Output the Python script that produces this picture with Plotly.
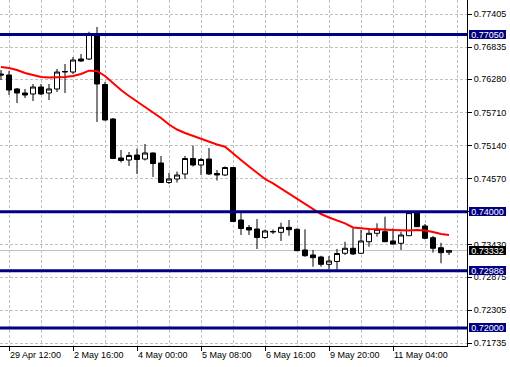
import plotly.graph_objects as go

# ---- data (H4 bars, index 0 = 29 Apr 12:00) ----
bar_index = list(range(-1, 56))
opens = [0.76372, 0.76355, 0.76114, 0.76045, 0.76028, 0.76148, 0.76045, 0.76114, 0.76406, 0.76406,
         0.76630, 0.76630, 0.77043, 0.76191, 0.75597, 0.74926, 0.74891, 0.74977, 0.74908, 0.75012,
         0.74840, 0.74504, 0.74564, 0.74650, 0.74917, 0.74805, 0.74908, 0.74659, 0.74633, 0.74762,
         0.73858, 0.73729, 0.73703, 0.73557, 0.73660, 0.73646, 0.73732, 0.73698, 0.73342, 0.73256,
         0.73221, 0.73095, 0.73144, 0.73285, 0.73371, 0.73285, 0.73484, 0.73629, 0.73657, 0.73497,
         0.73457, 0.73588, 0.73985, 0.73755, 0.73553, 0.73381, 0.73302]
highs = [0.76441, 0.76424, 0.76131, 0.76114, 0.76200, 0.76200, 0.76200, 0.76458, 0.76544, 0.76665,
         0.76716, 0.77100, 0.77181, 0.76234, 0.75614, 0.75063, 0.75029, 0.75089, 0.75167, 0.75020,
         0.74960, 0.74667, 0.74693, 0.74960, 0.75141, 0.74926, 0.75098, 0.74719, 0.74779, 0.74771,
         0.73996, 0.73772, 0.73875, 0.73695, 0.73695, 0.73812, 0.73858, 0.73715, 0.73698, 0.73342,
         0.73243, 0.73238, 0.73359, 0.73484, 0.73715, 0.73686, 0.73715, 0.73801, 0.73915, 0.73715,
         0.73657, 0.74002, 0.74005, 0.73789, 0.73583, 0.73467, 0.73342]
lows = [0.76269, 0.76010, 0.75873, 0.75959, 0.75907, 0.76010, 0.75924, 0.76062, 0.76045, 0.76372,
        0.76579, 0.76613, 0.75545, 0.75571, 0.74908, 0.74848, 0.74788, 0.74650, 0.74883, 0.74599,
        0.74495, 0.74478, 0.74504, 0.74564, 0.74779, 0.74633, 0.74633, 0.74538, 0.74616, 0.73824,
        0.73600, 0.73600, 0.73359, 0.73531, 0.73617, 0.73497, 0.73588, 0.73324, 0.73226, 0.73054,
        0.73054, 0.73009, 0.73006, 0.73256, 0.73256, 0.73281, 0.73398, 0.73571, 0.73479, 0.73436,
        0.73342, 0.73583, 0.73738, 0.73526, 0.73295, 0.73113, 0.73256]
closes = [0.76355, 0.76096, 0.76045, 0.76010, 0.76148, 0.76028, 0.76114, 0.76406, 0.76415, 0.76613,
          0.76596, 0.77061, 0.76200, 0.75580, 0.74917, 0.74883, 0.74969, 0.74900, 0.75012, 0.74831,
          0.74504, 0.74564, 0.74633, 0.74917, 0.74805, 0.74900, 0.74650, 0.74633, 0.74762, 0.73832,
          0.73712, 0.73686, 0.73557, 0.73669, 0.73655, 0.73732, 0.73691, 0.73330, 0.73243, 0.73209,
          0.73095, 0.73152, 0.73281, 0.73371, 0.73273, 0.73497, 0.73629, 0.73698, 0.73484, 0.73445,
          0.73600, 0.73985, 0.73743, 0.73543, 0.73371, 0.73295, 0.73332]
ma_values = [0.76492, 0.76475, 0.76441, 0.76389, 0.76355, 0.76320, 0.76312, 0.76312, 0.76320, 0.76338,
             0.76372, 0.76429, 0.76424, 0.76338, 0.76217, 0.76096, 0.75993, 0.75898, 0.75804, 0.75718,
             0.75614, 0.75502, 0.75416, 0.75356, 0.75304, 0.75261, 0.75210, 0.75158, 0.75120, 0.75012,
             0.74891, 0.74779, 0.74676, 0.74564, 0.74487, 0.74400, 0.74323, 0.74237, 0.74142, 0.74048,
             0.73961, 0.73901, 0.73849, 0.73801, 0.73729, 0.73712, 0.73703, 0.73698, 0.73686, 0.73686,
             0.73681, 0.73677, 0.73686, 0.73677, 0.73651, 0.73617, 0.73600]

time_tick_bars = [0, 8, 16, 24, 32, 40, 48]
time_tick_labels = ["29 Apr 12:00", "2 May 16:00", "4 May 00:00", "5 May 08:00",
                    "6 May 16:00", "9 May 20:00", "11 May 04:00"]
price_ticks = [0.77405, 0.76835, 0.76280, 0.75710, 0.75140, 0.74570,
               0.74000, 0.73430, 0.72875, 0.72305, 0.71735]
price_tick_labels = ["0.77405", "0.76835", "0.76280", "0.75710", "0.75140", "0.74570",
                     "0.74000", "0.73430", "0.72875", "0.72305", "0.71735"]
level_prices = [0.77050, 0.74000, 0.72986, 0.72000]
level_labels = ["0.77050", "0.74000", "0.72986", "0.72000"]
bid_price = 0.73332
bid_label = "0.73332"

FONT = "Liberation Sans"
NAVY = "#000080"
GRID = "#c0c0c0"

fig = go.Figure()
fig.add_trace(go.Candlestick(
    x=bar_index, open=opens, high=highs, low=lows, close=closes,
    increasing=dict(line=dict(color="black", width=1), fillcolor="white"),
    decreasing=dict(line=dict(color="black", width=1), fillcolor="black"),
    whiskerwidth=0, hoverinfo="skip",
))
fig.add_trace(go.Scatter(
    x=bar_index, y=ma_values, mode="lines",
    line=dict(color="#ff0000", width=2), hoverinfo="skip",
))

shapes = []
shapes.append(dict(type="line", xref="paper", yref="y", x0=0, x1=1, y0=bid_price, y1=bid_price,
                   line=dict(color=GRID, width=1), layer="below"))
for lv in level_prices:
    shapes.append(dict(type="line", xref="paper", yref="y", x0=0, x1=1, y0=lv, y1=lv,
                       line=dict(color=NAVY, width=3), layer="above"))

annotations = []
for lv, lab in zip(level_prices, level_labels):
    annotations.append(dict(x=1, xref="paper", y=lv, yref="y", text=lab, showarrow=False,
                            xanchor="left", yanchor="middle", xshift=2, bgcolor=NAVY,
                            font=dict(family=FONT, size=9, color="white"),
                            borderpad=0, borderwidth=0, width=37, height=9, align="center"))
annotations.append(dict(x=1, xref="paper", y=bid_price, yref="y", text=bid_label, showarrow=False,
                        xanchor="left", yanchor="middle", xshift=2, bgcolor="black",
                        font=dict(family=FONT, size=9, color="white"),
                        borderpad=0, borderwidth=0, width=37, height=9, align="center"))
for b, lab in zip(time_tick_bars, time_tick_labels):
    annotations.append(dict(x=b, xref="x", y=0, yref="paper", text=lab, showarrow=False,
                            xanchor="left", yanchor="top", xshift=1, yshift=-4,
                            font=dict(family=FONT, size=9, color="black"),
                            borderpad=0, borderwidth=0))

fig.update_layout(
    width=510, height=367,
    margin=dict(l=0, r=43, t=0, b=21, pad=0),
    paper_bgcolor="white", plot_bgcolor="white",
    showlegend=False, boxgap=0.375, boxgroupgap=0,
    font=dict(family=FONT, size=9, color="black"),
    shapes=shapes, annotations=annotations,
    xaxis=dict(range=[-1.125, 57.25], rangeslider=dict(visible=False),
               tickmode="array", tickvals=time_tick_bars, showticklabels=False,
               ticks="outside", ticklen=4, tickcolor="black", tickwidth=1,
               showgrid=True, gridcolor=GRID, griddash="3px,2px", gridwidth=1,
               minor=dict(tickmode="linear", tick0=0, dtick=4, showgrid=True,
                          gridcolor=GRID, griddash="3px,2px", gridwidth=1, ticklen=0),
               showline=True, linecolor="black", linewidth=1, zeroline=False, fixedrange=True),
    yaxis=dict(side="right", range=[0.716886, 0.776461],
               tickmode="array", tickvals=price_ticks, ticktext=price_tick_labels,
               ticks="outside", ticklen=4, tickcolor="black", tickwidth=1,
               showgrid=True, gridcolor=GRID, griddash="3px,2px", gridwidth=1,
               showline=True, linecolor="black", linewidth=1, zeroline=False,
               tickfont=dict(family=FONT, size=9, color="black"), fixedrange=True),
)

fig.write_html("out.html", config={"displayModeBar": False},
               post_script="document.body.style.margin='0';document.body.style.overflow='hidden';")
